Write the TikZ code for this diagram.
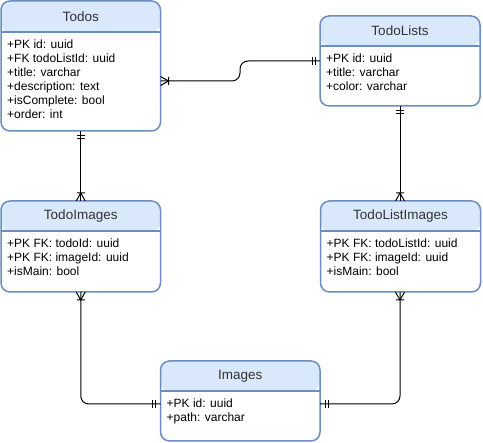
\documentclass[tikz,border=0pt]{standalone}
\usepackage{fontspec}
\setmainfont{Liberation Sans}
\definecolor{hdrfill}{HTML}{DAE8FC}
\definecolor{bordercol}{HTML}{6C8EBF}
\definecolor{titlecol}{HTML}{333333}
\tikzset{
  ebox/.style={draw=bordercol, line width=1.5pt, fill=white, rounded corners=9pt, inner sep=0pt, outer sep=0pt},
  ttl/.style={font=\fontsize{13.5}{16}\selectfont, text=titlecol, inner sep=0pt},
  row/.style={font=\fontsize{12}{14}\selectfont, text=black, inner sep=0pt},
  conn/.style={draw=black, line width=1pt},
  mandone/.pic={\draw[conn] (5,-4) -- (5,4) (8,-4) -- (8,4);},
  onemany/.pic={\draw[conn] (0,-4.5) -- (8,0) -- (0,4.5) (8,-4) -- (8,4);}
}
\newcommand\erbox[8]{%
  \node[ebox, minimum width=#4, minimum height=#5, anchor=north west,
        path picture={\fill[hdrfill] (path picture bounding box.north west) rectangle ([yshift=-#6 pt]path picture bounding box.north east);}]
        (#1) at (#2,#3) {};
  \draw[draw=bordercol, line width=1.5pt] ([yshift=-#6 pt]#1.west |- #1.north) -- ([yshift=-#6 pt]#1.east |- #1.north);
  \node[ttl] (#1t) at ([yshift=-#6 pt/2]#1.north) {#7};
  \foreach[count=\i] \r in {#8}
    \node[row, anchor=base west] (#1r\i) at ({#2+6},{#3+#6+17+14*(\i-1)}) {\r};
}
\begin{document}
\begin{tikzpicture}[x=1pt,y=-1pt]
\useasboundingbox (0,0) rectangle (483,443);
\erbox{todos}{1}{1}{159.5}{130}{31}{Todos}{+PK id: uuid,+FK todoListId: uuid,+title: varchar,+description: text,+isComplete: bool,+order: int}
\erbox{todolists}{320}{16}{160}{90}{30}{TodoLists}{+PK id: uuid,+title: varchar,+color: varchar}
\erbox{todoimages}{1}{201}{159.5}{91}{30}{TodoImages}{+PK FK: todoId: uuid,+PK FK: imageId: uuid,+isMain: bool}
\erbox{todolistimages}{320.5}{201}{160}{91}{30}{TodoListImages}{+PK FK: todoListId: uuid,+PK FK: imageId: uuid,+isMain: bool}
\erbox{images}{160.5}{361}{159.5}{80}{30}{Images}{+PK id: uuid,+path: varchar}

% connectors
\draw[conn, rounded corners=8pt] ([yshift=-15pt]todos.east) coordinate (c1) -- (c1 -| 240,0) |- (todolists.west);
\draw[conn] (todos.south) -- (todoimages.north);
\draw[conn] (todolists.south) -- (todolists.south |- todolistimages.north) coordinate (c2);
\draw[conn, rounded corners=8pt] (todoimages.south) |- ([yshift=-3pt]images.west) coordinate (c3);
\draw[conn, rounded corners=8pt] (todolistimages.south -| todolists.south) coordinate (c4) |- ([yshift=-3pt]images.east) coordinate (c5);

% markers
\pic at (c1) {onemany};
\pic[rotate=180] at (todolists.west) {mandone};
\pic[rotate=-90] at (todos.south) {mandone};
\pic[rotate=90] at (todoimages.north) {onemany};
\pic[rotate=-90] at (todolists.south) {mandone};
\pic[rotate=90] at (c2) {onemany};
\pic[rotate=-90] at (todoimages.south) {onemany};
\pic[rotate=180] at (c3) {mandone};
\pic[rotate=-90] at (c4) {onemany};
\pic at (c5) {mandone};
\end{tikzpicture}
\end{document}
